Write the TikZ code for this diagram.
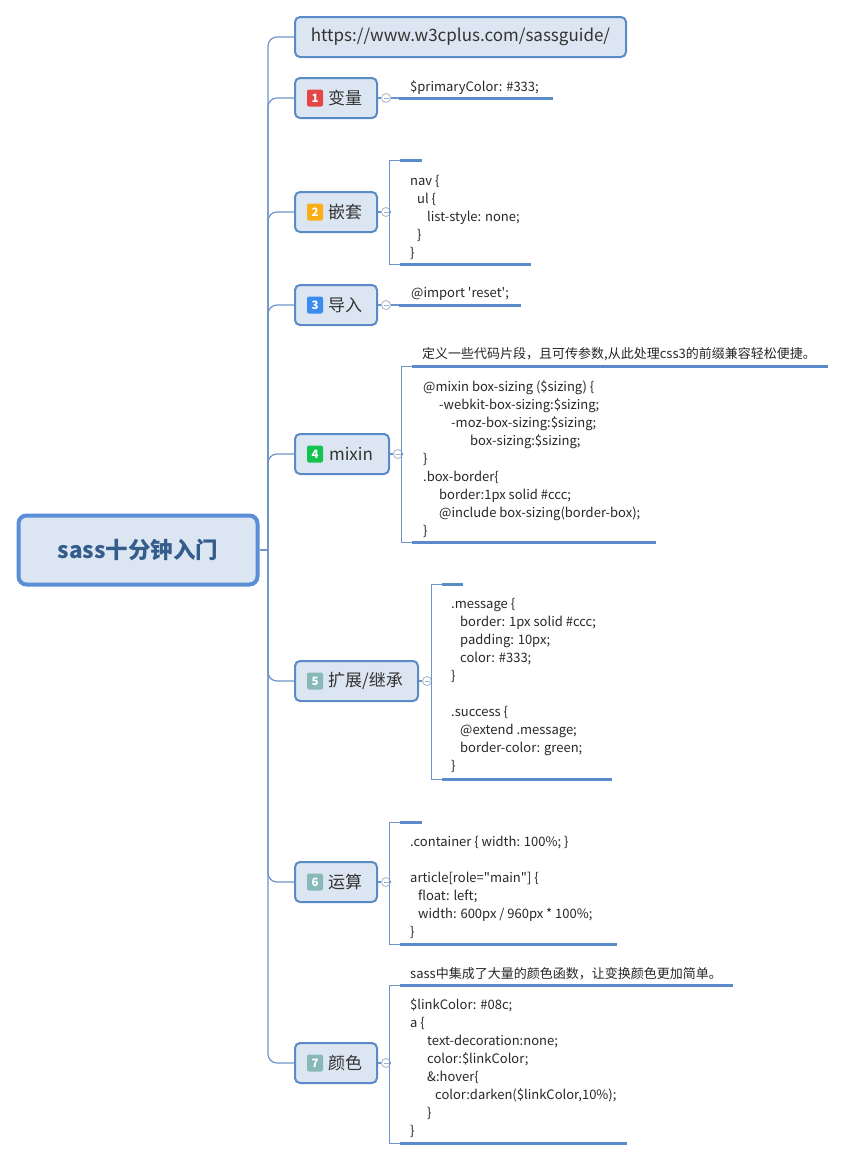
\documentclass[tikz,border=0pt]{standalone}
\usepackage{fontspec}
\setmainfont{Noto Sans CJK SC}[Ligatures=TeXOff]
\usetikzlibrary{positioning}

\definecolor{topicfill}{HTML}{DCE6F2}
\definecolor{topicline}{HTML}{5A8AC8}
\definecolor{rootline}{HTML}{5A8ED6}
\definecolor{roottext}{HTML}{355D8C}
\definecolor{linkline}{HTML}{6D95C9}
\definecolor{barline}{HTML}{5B8ACB}
\definecolor{foldline}{HTML}{9FB3CB}
\definecolor{nred}{HTML}{E54646}
\definecolor{norange}{HTML}{FAAF14}
\definecolor{nblue}{HTML}{3C8CF0}
\definecolor{ngreen}{HTML}{14C350}
\definecolor{ngray}{HTML}{87B9B9}

\tikzset{
  root/.style={draw=rootline, fill=topicfill, line width=4pt, rounded corners=8pt, minimum width=239pt, minimum height=69pt, text=roottext, font=\fontsize{22.5}{26}\selectfont\bfseries},
  topic/.style={draw=topicline, fill=topicfill, line width=2pt, rounded corners=5pt, minimum height=40pt, anchor=west, text=black!80, font=\fontsize{17}{20}\selectfont},
  badge/.style={fill=#1, rounded corners=2pt, minimum width=16pt, minimum height=17pt, inner sep=0pt, text=white, font=\fontsize{11.5}{12}\selectfont\bfseries},
  fold/.style={circle, draw=foldline, fill=white, minimum size=9pt, inner sep=0pt, line width=0.8pt,
    path picture={\draw[foldline, line width=0.8pt] ([xshift=-2.5pt]path picture bounding box.center) -- ([xshift=2.5pt]path picture bounding box.center);}},
  link/.style={draw=linkline, line width=1.2pt},
  rim/.style={draw=linkline, line width=1pt},
  bar/.style={draw=barline, line width=3pt},
  code/.style={anchor=base west, align=left, inner sep=0pt, text=black!85, font=\fontsize{13}{18}\selectfont},
}

\begin{document}
\begin{tikzpicture}[x=1pt,y=-1pt]
\useasboundingbox (0,0) rectangle (846,1160);

\node[root] (root) at (138,550) {sass十分钟入门};
\coordinate (spine) at (268,550);

\node[topic, minimum width=331pt] (url) at (294,37) {https://www.w3cplus.com/sassguide/};
\node[topic, minimum width=82pt] (t1) at (294,98) {\hspace*{18pt}变量};
\node[topic, minimum width=82pt] (t2) at (294,212) {\hspace*{18pt}嵌套};
\node[topic, minimum width=82pt] (t3) at (294,305) {\hspace*{18pt}导入};
\node[topic, minimum width=94pt] (t4) at (294,454) {\hspace*{18pt}mixin};
\node[topic, minimum width=123pt] (t5) at (294,681) {\hspace*{18pt}扩展/继承};
\node[topic, minimum width=82pt] (t6) at (294,882) {\hspace*{18pt}运算};
\node[topic, minimum width=82pt] (t7) at (294,1063) {\hspace*{18pt}颜色};

\foreach \t/\c [count=\i] in {t1/nred,t2/norange,t3/nblue,t4/ngreen,t5/ngray,t6/ngray,t7/ngray}
  \node[badge=\c] (n\i) at ([xshift=21pt]\t.west) {\i};

\draw[link] (root.east) -- (spine);
\foreach \t in {url,t1,t2,t3,t4,t5,t6,t7}
  \draw[link, rounded corners=9pt] (spine) |- (\t.west);

\foreach \t in {t1,t2,t3,t4,t5,t6,t7} {
  \node[fold] (f\t) at ([xshift=8pt]\t.east) {};
  \draw[link] (\t.east) -- (f\t);
}

% single line children
\coordinate (st1) at (399,98);
\coordinate (et1) at (553,98);
\draw[link] (ft1) -- (st1);
\draw[bar] (st1) -- (et1);
\node[code] (k1) at (410,91) {\$primaryColor: \#333;};

\coordinate (st3) at (399,305);
\coordinate (et3) at (521,305);
\draw[link] (ft3) -- (st3);
\draw[bar] (st3) -- (et3);
\node[code] (k3) at (411,297) {@import 'reset';};

% bracketed children (code nodes sit on the baseline of their last line)
\foreach \t/\x/\a/\b/\p/\q in {t2/389/160/264/422/531, t4/401/366/542/828/656, t5/431/584/779/463/612, t6/389/822/944/422/617, t7/389/985/1143/733/627} {
  \coordinate (u\t) at (\x,\a);
  \coordinate (d\t) at (\x,\b);
  \coordinate (ue\t) at (\p,\a);
  \coordinate (de\t) at (\q,\b);
  \draw[link] (f\t) -- (f\t -| u\t);
  \draw[rim] ([xshift=11pt]u\t) -- (u\t) -- (d\t) -- ([xshift=11pt]d\t);
  \draw[bar] ([xshift=11pt]u\t) -- (ue\t);
  \draw[bar] ([xshift=11pt]d\t) -- (de\t);
}

\node[code] (k2) at (410,257) {nav \{\\
\hspace*{7pt}ul \{\\
\hspace*{17pt}list-style: none;\\
\hspace*{7pt}\}\\
\}};

\node[code] (h4) at (422,358) {定义一些代码片段，且可传参数,从此处理css3的前缀兼容轻松便捷。};
\node[code] (k4) at (423,535) {@mixin box-sizing (\$sizing) \{\\
\hspace*{16pt}-webkit-box-sizing:\$sizing;\\
\hspace*{28pt}-moz-box-sizing:\$sizing;\\
\hspace*{47pt}box-sizing:\$sizing;\\
\}\\
.box-border\{\\
\hspace*{16pt}border:1px solid \#ccc;\\
\hspace*{16pt}@include box-sizing(border-box);\\
\}};

\node[code] (k5) at (451,770) {.message \{\\
\hspace*{9pt}border: 1px solid \#ccc;\\
\hspace*{9pt}padding: 10px;\\
\hspace*{9pt}color: \#333;\\
\}\\[18pt]
.success \{\\
\hspace*{9pt}@extend .message;\\
\hspace*{9pt}border-color: green;\\
\}};

\node[code] (k6) at (410,936) {.container \{ width: 100\%; \}\\[18pt]
article[role="main"] \{\\
\hspace*{8pt}float: left;\\
\hspace*{8pt}width: 600px / 960px * 100\%;\\
\}};

\node[code] (h7) at (410,978) {sass中集成了大量的颜色函数，让变换颜色更加简单。};
\node[code] (k7) at (410,1135) {\$linkColor: \#08c;\\
a \{\\
\hspace*{17pt}text-decoration:none;\\
\hspace*{17pt}color:\$linkColor;\\
\hspace*{17pt}\&:hover\{\\
\hspace*{25pt}color:darken(\$linkColor,10\%);\\
\hspace*{17pt}\}\\
\}};
\end{tikzpicture}
\end{document}
